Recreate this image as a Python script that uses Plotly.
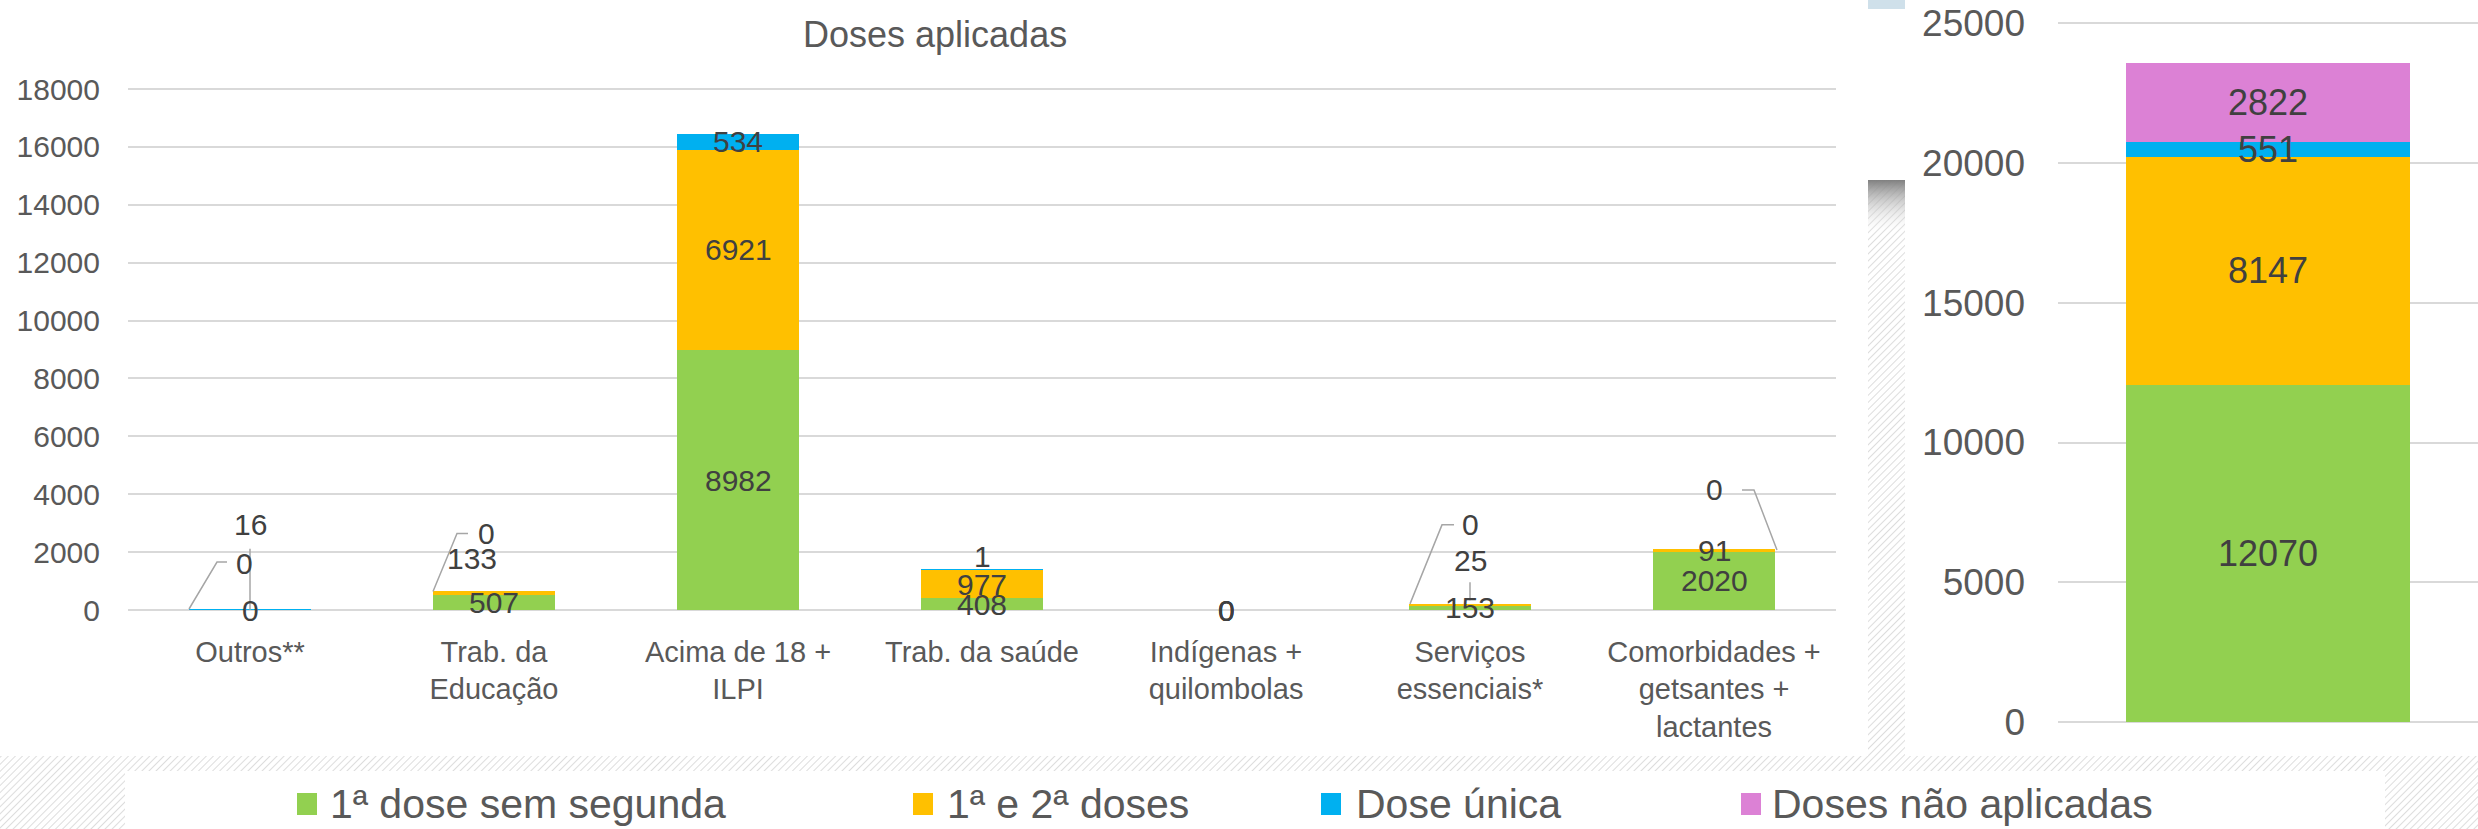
import base64
import plotly.graph_objects as go

W, H = 2478, 829
FONT = "Liberation Sans, Arial, sans-serif"

# ---- data -------------------------------------------------------------
categories = [
    "Outros**",
    "Trab. da<br>Educação",
    "Acima de 18 +<br>ILPI",
    "Trab. da saúde",
    "Indígenas +<br>quilombolas",
    "Serviços<br>essenciais*",
    "Comorbidades +<br>getsantes +<br>lactantes",
]
primeira_sem_segunda = [0, 507, 8982, 408, 0, 153, 2020]
primeira_e_segunda = [0, 133, 6921, 977, 0, 25, 91]
dose_unica = [16, 0, 534, 1, 0, 0, 0]
doses_nao_aplicadas = [2822]

series_names = ["1ª dose sem segunda", "1ª e 2ª doses", "Dose única", "Doses não aplicadas"]
colors = ["#92D050", "#FFC000", "#00B0F0", "#DC81D5"]

left_series = [primeira_sem_segunda, primeira_e_segunda, dose_unica]
totals = [sum(s) for s in left_series] + doses_nao_aplicadas

left_ticks = list(range(0, 18001, 2000))
right_ticks = list(range(0, 25001, 5000))

# ---- helpers ----------------------------------------------------------
def px(x):
    return x / W


def py(y):
    return (H - y) / H


def y_domain(p_zero, p_top, v_top, lo, hi):
    """Domain for an axis whose 0 sits at pixel p_zero and v_top at p_top."""
    k = (p_zero - p_top) / v_top
    return [py(p_zero - lo * k), py(p_zero - hi * k)], [lo, hi]


left_dom, left_rng = y_domain(610, 89, 18000, -200, 18200)
right_dom, right_rng = y_domain(722, 23.3, 25000, -200, 25200)

fig = go.Figure()

# left chart: stacked bars per category
for name, vals, col in zip(series_names[:3], left_series, colors[:3]):
    fig.add_trace(go.Bar(
        x=categories, y=vals, name=name, marker=dict(color=col, line=dict(width=0)),
        width=0.5, xaxis="x", yaxis="y", showlegend=False, hoverinfo="y+name",
    ))

# right chart: one stacked bar with totals
for name, val, col in zip(series_names, totals, colors):
    fig.add_trace(go.Bar(
        x=["Total"], y=[val], name=name, marker=dict(color=col, line=dict(width=0)),
        width=0.674, xaxis="x2", yaxis="y2", showlegend=False, hoverinfo="y+name",
    ))

# ---- data labels ------------------------------------------------------
# moved labels: (category index, series index) -> (xshift, yshift, leader path in px, y up)
moved = {
    (0, 1): (-6, 47, [(-61, 1), (-33, 48), (-23, 48)]),
    (0, 2): (0, 85, [(0, 61), (0, 0)]),
    (1, 1): (-22, 35, None),
    (1, 2): (-8, 58, [(-61, 0), (-37, 58), (-26, 58)]),
    (3, 2): (0, 13, None),
    (5, 1): (0, 45, [(0, 23), (0, 5)]),
    (5, 2): (0, 80, [(-60, 1), (-28, 80), (-16, 80)]),
    (6, 2): (0, 59, [(28, 59), (40, 59), (63, -1)]),
}

annotations = []
shapes = []
for ci, cat in enumerate(categories):
    base = 0
    for si, vals in enumerate(left_series):
        v = vals[ci]
        mid = base + v / 2
        base += v
        xs, ys, path = moved.get((ci, si), (0, 0, None))
        annotations.append(dict(
            x=cat, y=mid, xref="x", yref="y", text=str(v), showarrow=False,
            xshift=xs, yshift=ys, font=dict(family=FONT, size=30, color="#404040"),
        ))
        if path:
            d = "M" + " L".join(f"{a},{b}" for a, b in path)
            shapes.append(dict(
                type="path", xref="x", yref="y", xsizemode="pixel", ysizemode="pixel",
                xanchor=ci, yanchor=mid, path=d, line=dict(color="#A6A6A6", width=1.5),
            ))

base = 0
for v in totals:
    annotations.append(dict(
        x="Total", y=base + v / 2, xref="x2", yref="y2", text=str(v), showarrow=False,
        font=dict(family=FONT, size=36, color="#404040"),
    ))
    base += v

# title
annotations.append(dict(
    x=px(935), y=py(34), xref="paper", yref="paper", text="Doses aplicadas",
    showarrow=False, xanchor="center", yanchor="middle",
    font=dict(family=FONT, size=36, color="#595959"),
))

# legend
legend_pos = [(297, 328), (913, 945), (1321, 1354), (1741, 1770)]
for (sx, tx), name, col in zip(legend_pos, series_names, colors):
    shapes.append(dict(
        type="rect", xref="paper", yref="paper",
        x0=px(sx), x1=px(sx + 20), y0=py(815), y1=py(793),
        fillcolor=col, line=dict(width=0),
    ))
    annotations.append(dict(
        x=px(tx), y=py(804), xref="paper", yref="paper", text=name, showarrow=False,
        xanchor="left", yanchor="middle", font=dict(family=FONT, size=41, color="#595959"),
    ))

# ---- panel backdrop (hatched frame, divider strip) --------------------
svg = f"""<svg xmlns="http://www.w3.org/2000/svg" width="{W}" height="{H}" viewBox="0 0 {W} {H}" preserveAspectRatio="none">
<defs>
<pattern id="h" width="5" height="5" patternUnits="userSpaceOnUse" patternTransform="rotate(45)">
<line x1="0" y1="0" x2="0" y2="5" stroke="#d4d4d4" stroke-width="1.6"/>
</pattern>
<linearGradient id="g" x1="0" y1="0" x2="0" y2="1">
<stop offset="0" stop-color="#808080" stop-opacity="1"/>
<stop offset="1" stop-color="#ffffff" stop-opacity="0"/>
</linearGradient>
</defs>
<rect x="0" y="0" width="{W}" height="{H}" fill="#ffffff"/>
<rect x="0" y="756" width="{W}" height="{H - 756}" fill="url(#h)"/>
<rect x="125" y="771" width="2260" height="{H - 771}" fill="#ffffff"/>
<rect x="1868" y="180" width="37" height="576" fill="url(#h)"/>
<rect x="1868" y="180" width="37" height="55" fill="url(#g)"/>
<rect x="1868" y="0" width="37" height="9" fill="#cfe0ea"/>
</svg>"""
bg_src = "data:image/svg+xml;base64," + base64.b64encode(svg.encode("utf-8")).decode("ascii")

fig.update_layout(
    width=W, height=H, margin=dict(l=0, r=0, t=0, b=0, pad=0, autoexpand=False),
    paper_bgcolor="#ffffff", plot_bgcolor="rgba(0,0,0,0)",
    barmode="stack", showlegend=False,
    font=dict(family=FONT, color="#595959"),
    images=[dict(source=bg_src, xref="paper", yref="paper", x=0, y=1, sizex=1, sizey=1,
                 xanchor="left", yanchor="top", sizing="stretch", layer="below")],
    xaxis=dict(domain=[px(128), px(1836)], showgrid=False, zeroline=False, showline=False,
               automargin=False,
               ticks="", ticklabelstandoff=16, tickfont=dict(size=29, color="#595959"),
               fixedrange=True),
    yaxis=dict(domain=left_dom, range=left_rng, tickmode="array", tickvals=left_ticks,
               ticktext=[str(t) for t in left_ticks], automargin=False,
               showgrid=True, gridcolor="#D9D9D9", gridwidth=2, zeroline=False, showline=False,
               ticks="", ticklabelstandoff=27, tickfont=dict(size=30, color="#595959"),
               fixedrange=True),
    xaxis2=dict(domain=[px(2058), 1.0], anchor="y2", showgrid=False, zeroline=False,
                automargin=False,
                showline=False, showticklabels=False, ticks="", fixedrange=True),
    yaxis2=dict(domain=right_dom, range=right_rng, anchor="x2", tickmode="array",
                tickvals=right_ticks, ticktext=[str(t) for t in right_ticks],
                automargin=False,
                showgrid=True, gridcolor="#D9D9D9", gridwidth=2,
                zeroline=False, showline=False, ticks="", ticklabelstandoff=32,
                tickfont=dict(size=37, color="#595959"), fixedrange=True),
    annotations=annotations,
    shapes=shapes,
)

fig.write_html("out.html")
